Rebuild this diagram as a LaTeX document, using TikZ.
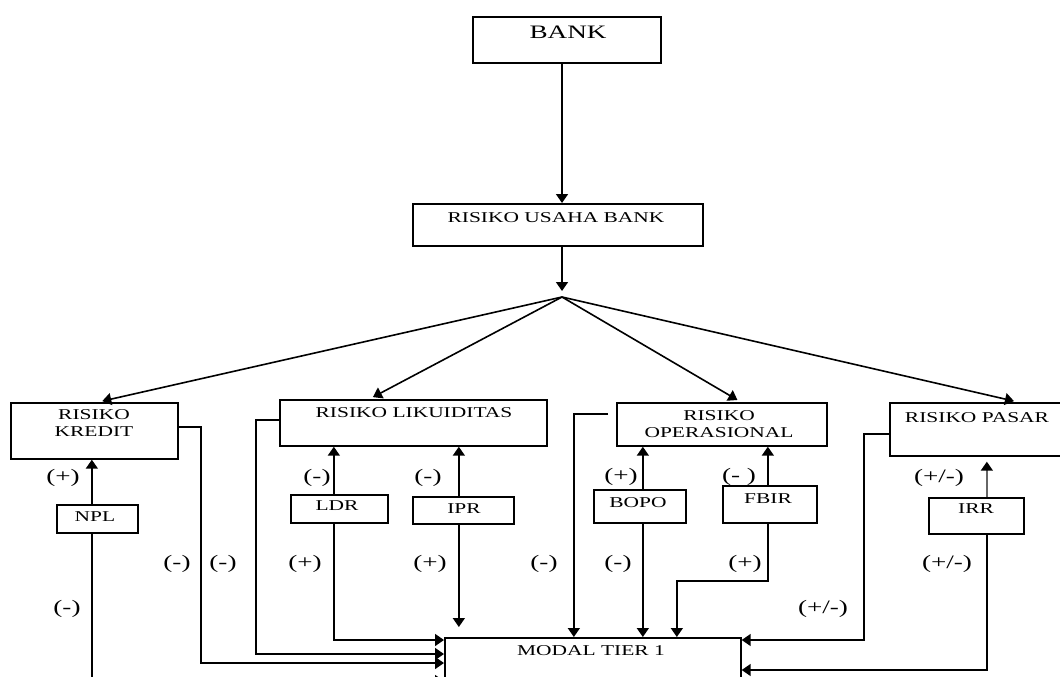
\documentclass[tikz,border=0pt]{standalone}
\usepackage{fontspec}
\setmainfont{Liberation Serif}[FakeStretch=1.43]
\usetikzlibrary{arrows.meta,calc}
\begin{document}
\begin{tikzpicture}[x=1pt,y=-1pt]
\tikzset{
  box/.style={draw, line width=1.7pt, rectangle, anchor=north west, inner sep=0pt},
  txt/.style={font=\fontsize{15pt}{17pt}\selectfont, inner sep=0pt, align=center},
  lbl/.style={font=\fontsize{19pt}{21pt}\selectfont, inner sep=0pt, anchor=base},
  conn/.style={line width=1.6pt},
  arr/.style={conn, -{Triangle[length=9pt,width=12pt]}},
  grayarr/.style={conn, draw=black!60, -{Triangle[length=9pt,width=12pt,color=black]}},
}
\useasboundingbox (0,0) rectangle (1060,677);
\clip (0,0) rectangle (1060,677);

% boxes
\node[box, minimum width=188pt, minimum height=46pt] (bank) at (472,16) {};
\node[box, minimum width=290pt, minimum height=42pt] (rub) at (412,203) {};
\node[box, minimum width=167pt, minimum height=56pt] (kredit) at (10,402) {};
\node[box, minimum width=267pt, minimum height=46pt] (likuid) at (279,399) {};
\node[box, minimum width=210pt, minimum height=43pt] (oper) at (616,402) {};
\node[box, minimum width=181pt, minimum height=53pt] (pasar) at (889,402) {};
\node[box, minimum width=81pt, minimum height=28pt] (npl) at (56,504) {};
\node[box, minimum width=97pt, minimum height=28pt] (ldr) at (290,494) {};
\node[box, minimum width=101pt, minimum height=27pt] (ipr) at (412,496) {};
\node[box, minimum width=92pt, minimum height=33pt] (bopo) at (593,489) {};
\node[box, minimum width=94pt, minimum height=37pt] (fbir) at (722,485) {};
\node[box, minimum width=95pt, minimum height=36pt] (irr) at (928,497) {};
\node[box, minimum width=296pt, minimum height=63pt] (modal) at (444,637) {};

% box texts
\node[txt, anchor=base, font=\fontsize{19pt}{21pt}\selectfont] (bankt) at (568,39) {BANK};
\node[txt, anchor=base] (rubt) at (556,222) {RISIKO USAHA BANK};
\node[txt] (kreditt) at (94,423.5) {RISIKO\\KREDIT};
\node[txt, anchor=base] (likuidt) at (414,417) {RISIKO LIKUIDITAS};
\node[txt] (opert) at (719,424) {RISIKO\\OPERASIONAL};
\node[txt, anchor=base] (pasart) at (977,422) {RISIKO PASAR};
\node[txt, anchor=base] (nplt) at (95,521) {NPL};
\node[txt, anchor=base] (ldrt) at (337,510) {LDR};
\node[txt, anchor=base] (iprt) at (464,513) {IPR};
\node[txt, anchor=base] (bopot) at (638,507) {BOPO};
\node[txt, anchor=base] (fbirt) at (768,503) {FBIR};
\node[txt, anchor=base] (irrt) at (976,513) {IRR};
\node[txt, anchor=base] (modalt) at (591,655) {MODAL TIER 1};

% labels
\node[lbl] (l1) at (63,482) {(+)};
\node[lbl] (l2) at (317,482) {(-)};
\node[lbl] (l3) at (428,482) {(-)};
\node[lbl] (l4) at (621,481) {(+)};
\node[lbl] (l5) at (739,481) {(- )};
\node[lbl] (l6) at (939,482) {(+/-)};
\node[lbl] (l7) at (177,568) {(-)};
\node[lbl] (l8) at (223,568) {(-)};
\node[lbl] (l9) at (305,568) {(+)};
\node[lbl] (l10) at (430,568) {(+)};
\node[lbl] (l11) at (544,568) {(-)};
\node[lbl] (l12) at (618,568) {(-)};
\node[lbl] (l13) at (745,568) {(+)};
\node[lbl] (l14) at (947,568) {(+/-)};
\node[lbl] (l15) at (67,613) {(-)};
\node[lbl] (l16) at (823,613) {(+/-)};

% top connectors
\coordinate (j) at (562,297);
\draw[arr] (bank.south -| j) -- (rub.north -| j);
\draw[arr, shorten >=6pt] (rub.south -| j) -- (j);
\draw[arr, shorten >=4pt] (j) -- ([xshift=4pt]kredit.north);
\draw[arr, shorten >=4pt] (j) -- ([xshift=-44pt]likuid.north);
\draw[arr, shorten >=4pt] (j) -- ([xshift=19pt]oper.north);
\draw[arr, shorten >=4pt] (j) -- ([xshift=37.5pt]pasar.north);

% kredit side
\draw[arr] ([xshift=-5.5pt]npl.north) -- ([xshift=-5.5pt]npl.north |- kredit.south);
\draw[arr] ([xshift=-5.5pt]npl.south) |- ([yshift=-44pt]modal.north west);
\draw[arr] ([yshift=4pt]kredit.east) -- ++(22,0) |- ([yshift=-26pt]modal.north west);

% likuiditas side
\draw[arr] ([yshift=3pt]likuid.west) -- ++(-23,0) |- ([yshift=-17pt]modal.north west);
\draw[arr] ([xshift=-5.5pt]ldr.north) -- ([xshift=-5.5pt]ldr.north |- likuid.south);
\draw[arr] ([xshift=-5.5pt]ldr.south) |- ([yshift=-3pt]modal.north west);
\draw[arr] ([xshift=-4.5pt]ipr.north) -- ([xshift=-4.5pt]ipr.north |- likuid.south);
\draw[arr, shorten >=10pt] ([xshift=-4.5pt]ipr.south) -- ([xshift=-4.5pt]ipr.south |- modal.north);

% operasional side
\draw[arr] ([shift={(-8pt,10.5pt)}]oper.west) -| ([xshift=-19pt]modal.north);
\draw[arr] ([xshift=3pt]bopo.north) -- ([xshift=3pt]bopo.north |- oper.south);
\draw[arr] ([xshift=3pt]bopo.south) -- ([xshift=3pt]bopo.south |- modal.north);
\draw[arr] ([xshift=-2pt]fbir.north) -- ([xshift=-2pt]fbir.north |- oper.south);
\draw[arr] ([xshift=-2pt]fbir.south) -- ++(0,57) -| ([xshift=84pt]modal.north);

% pasar side
\draw[arr] ([yshift=-4.5pt]pasar.west) -- ++(-25,0) |- ([yshift=-3pt]modal.north east);
\draw[grayarr, shorten >=5pt] ([xshift=10.5pt]irr.north) -- ([xshift=10.5pt]irr.north |- pasar.south);
\draw[arr] ([xshift=10.5pt]irr.south) |- ([yshift=-33pt]modal.north east);
\end{tikzpicture}
\end{document}
